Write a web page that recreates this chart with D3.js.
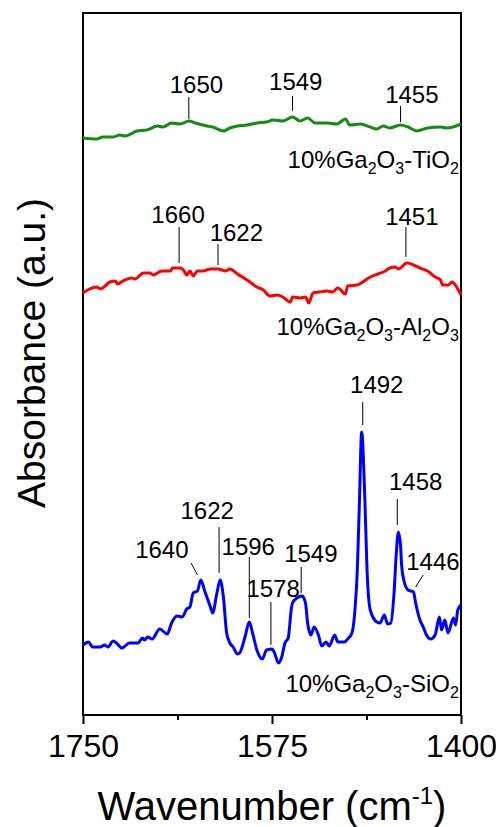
<!DOCTYPE html>
<html>
<head>
<meta charset="utf-8">
<script src="https://cdn.jsdelivr.net/npm/d3@7"></script>
<style>
  body { margin: 0; background: #fff; }
  text { font-family: "Liberation Sans", Arial, sans-serif; fill: #000; }
</style>
</head>
<body>
<div id="chart"></div>
<script>
// 10%Ga2O3-TiO2 spectrum (wavenumber, absorbance a.u. with offset)
var tiWn = [1750,1737,1732,1722,1716,1711,1700,1691,1681,1676,1668,1660,1652,1646,1635,1630,1620,1614,1607,1598,1589,1580,1574,1565,1556,1549,1542,1535,1524,1515,1507,1503,1493,1484,1478,1472,1466,1456,1449,1441,1431,1419,1413,1400];
var tiAbs = [57.7,57.6,57.8,57.8,58.0,57.9,58.4,58.5,58.9,58.8,59.2,59.1,59.4,59.2,58.9,58.8,58.4,58.7,58.9,59.0,59.2,59.3,59.5,59.4,59.8,59.4,59.7,59.2,59.2,59.1,59.6,59.0,59.1,58.8,58.6,58.9,58.7,59.0,58.8,58.4,58.7,58.8,58.7,59.1];

// 10%Ga2O3-Al2O3 spectrum
var alWn = [1750,1744,1737,1734,1725,1720,1718,1713,1705,1702,1694,1688,1685,1677,1669,1667,1660,1657,1654,1651,1648,1644,1639,1632,1625,1618,1614,1607,1598,1589,1583,1577,1570,1565,1558,1556,1549,1544,1541,1537,1531,1524,1519,1514,1507,1505,1496,1491,1484,1477,1470,1466,1461,1458,1450,1444,1438,1431,1424,1419,1417,1412,1408,1406,1400];
var alAbs = [42.2,42.6,42.8,42.6,43.3,43.4,43.1,43.4,43.7,43.6,44.2,44.2,44.0,44.4,44.4,44.7,44.7,44.5,44.0,44.4,43.9,44.4,44.4,44.6,44.6,44.4,44.6,44.1,43.5,42.8,42.5,41.9,42.0,41.8,41.3,41.8,41.7,41.8,41.2,42.2,42.3,42.4,42.3,42.7,42.1,42.9,43.0,43.3,43.8,44.1,44.4,44.7,44.8,44.6,45.2,45.0,44.7,44.4,43.8,43.5,43.0,43.0,43.3,43.1,42.0];

// 10%Ga2O3-SiO2 spectrum
var siWn = [1750,1745,1741,1734,1730,1727,1722,1719,1714,1707,1699,1695,1693,1690,1686,1679,1672,1668,1663,1658,1654,1651,1648,1644,1641,1637,1632,1630,1626,1623,1620,1617,1614,1611,1607,1605,1600,1596,1593,1589,1584,1580,1575,1573,1569,1566,1563,1560,1557,1556,1552,1547,1544,1542,1539,1536,1532,1529,1525,1522,1517,1514,1508,1505,1501,1498,1496,1494,1492,1489,1487,1484,1478,1475,1471,1468,1465,1462,1460,1458,1456,1455,1453,1449,1444,1442,1438,1435,1432,1428,1424,1420,1418,1415,1412,1407,1405,1403,1400];
var siAbs = [7.0,7.3,6.8,6.8,7.0,6.8,7.4,7.2,6.7,7.2,7.2,7.7,7.5,7.8,7.6,8.6,8.1,9.2,9.9,9.8,10.6,10.8,12.2,12.4,13.5,12.3,10.8,10.2,12.2,13.5,11.8,8.2,7.2,6.8,6.1,6.2,7.8,9.3,8.2,6.5,5.6,6.5,6.6,6.3,5.2,5.8,7.2,7.7,10.7,11.2,11.7,11.9,11.2,9.2,8.0,8.8,8.0,6.9,7.3,6.9,8.0,7.3,7.3,7.6,8.2,10.8,14.5,21.5,28.3,21.5,14.5,10.5,9.3,9.2,10.0,9.1,9.2,12.2,16.0,18.3,17.0,15.0,13.5,12.5,12.3,11.2,9.5,8.8,8.0,7.6,8.0,9.8,8.5,9.5,8.2,9.7,9.0,10.5,11.0];

// x ticks
var xTicks = [1750, 1575, 1400];
var xMinor = [1662.5, 1487.5];

// peak marks: label, leader from (wn, a.u.) to (wn, a.u.), text at (wn, a.u.)
var tiMarks = [
  ["1650", 1652, 61.8, 1652, 59.6, 1645, 62.2],
  ["1549", 1556, 61.9, 1556, 60.4, 1553, 62.5],
  ["1455", 1456, 60.9, 1456, 59.3, 1445.5, 61.2]
];
var alMarks = [
  ["1660", 1661, 48.8, 1661, 45.2, 1662, 49.2],
  ["1622", 1625, 47.1, 1625, 45.0, 1608, 47.4],
  ["1451", 1451, 48.8, 1451, 45.8, 1445.5, 49.0]
];
var siMarks = [
  ["1640", 1650, 15.2, 1644, 14.0, 1677, 15.7],
  ["1622", 1624, 18.8, 1624, 14.2, 1635, 19.6],
  ["1596", 1596, 15.8, 1596, 9.7, 1597, 16.0],
  ["1578", 1576, 11.3, 1576, 7.0, 1574, 11.8],
  ["1549", 1548, 14.8, 1548, 12.2, 1539, 15.3],
  ["1492", 1491, 31.3, 1491, 29.0, 1478, 32.2],
  ["1458", 1459, 21.6, 1459, 19.0, 1442, 22.5],
  ["1446", 1435, 14.0, 1442, 12.8, 1426, 14.5]
];

// sample names (text, subscript flag) and where they sit
var tiName = [["10%Ga",0],["2",1],["O",0],["3",1],["-TiO",0],["2",1]];
var alName = [["10%Ga",0],["2",1],["O",0],["3",1],["-Al",0],["2",1],["O",0],["3",1]];
var siName = [["10%Ga",0],["2",1],["O",0],["3",1],["-SiO",0],["2",1]];
var nameAt = [54.7, 38.0, 2.3];

var width = 496;
var height = 827;
// plot frame edges
var pLeft = 83, pRight = 461, pTop = 13, pBottom = 715;

var svg = d3
  .select("#chart")
  .append("svg")
  .attr("width", width)
  .attr("height", height);

var x_Scale = d3.scaleLinear().domain([1750, 1400]).range([pLeft, pRight]);
var y_Scale = d3.scaleLinear().domain([0, 70.2]).range([pBottom, pTop]);

// minor ticks
svg
  .append("g")
  .attr("transform", "translate(0," + pBottom + ")")
  .call(d3.axisBottom(x_Scale).tickValues(xMinor).tickSize(5).tickFormat(""))
  .call(function(g) {
    g.select(".domain").remove();
    g.selectAll("line").attr("stroke", "#000").attr("stroke-width", 2);
  });

// major ticks
svg
  .append("g")
  .attr("transform", "translate(0," + pBottom + ")")
  .call(d3.axisBottom(x_Scale).tickValues(xTicks).tickSize(9).tickPadding(10).tickFormat(d3.format("d")))
  .call(function(g) {
    g.select(".domain").remove();
    g.selectAll("line").attr("stroke", "#000").attr("stroke-width", 2);
    g.selectAll("text")
      .attr("font-size", 32)
      .attr("font-family", "'Liberation Sans', Arial, sans-serif")
      .attr("fill", "#000");
  });

// frame
svg
  .append("rect")
  .attr("x", pLeft)
  .attr("y", pTop)
  .attr("width", pRight - pLeft)
  .attr("height", pBottom - pTop)
  .attr("fill", "none")
  .attr("stroke", "#000")
  .attr("stroke-width", 2);

var line = d3
  .line()
  .x(function(d) { return x_Scale(d[0]); })
  .y(function(d) { return y_Scale(d[1]); })
  .curve(d3.curveMonotoneX);

function drawSpectrum(wn, abs, color) {
  svg
    .append("path")
    .datum(d3.zip(wn, abs))
    .attr("d", line)
    .attr("fill", "none")
    .attr("stroke", color)
    .attr("stroke-width", 3)
    .attr("stroke-linejoin", "round");
}
drawSpectrum(tiWn, tiAbs, "#148c14");
drawSpectrum(alWn, alAbs, "#ff0000");
drawSpectrum(siWn, siAbs, "#0000ff");

// peak labels with leader lines
function drawMarks(marks) {
  var g = svg.append("g");
  g.selectAll("line")
    .data(marks)
    .enter()
    .append("line")
    .attr("x1", function(d) { return x_Scale(d[1]); })
    .attr("y1", function(d) { return y_Scale(d[2]); })
    .attr("x2", function(d) { return x_Scale(d[3]); })
    .attr("y2", function(d) { return y_Scale(d[4]); })
    .attr("stroke", "#000")
    .attr("stroke-width", 1);
  g.selectAll("text")
    .data(marks)
    .enter()
    .append("text")
    .attr("x", function(d) { return x_Scale(d[5]); })
    .attr("y", function(d) { return y_Scale(d[6]); })
    .attr("text-anchor", "middle")
    .attr("font-size", 24)
    .text(function(d) { return d[0]; });
}
drawMarks(tiMarks);
drawMarks(alMarks);
drawMarks(siMarks);

// sample names with subscripts
function drawName(parts, at) {
  var t = svg
    .append("text")
    .attr("x", x_Scale(1402))
    .attr("y", y_Scale(at))
    .attr("text-anchor", "end")
    .attr("font-size", 24);
  var sub = 0;
  parts.forEach(function(p) {
    var dy = 0;
    if (p[1] && !sub) dy = 6;
    if (!p[1] && sub) dy = -6;
    sub = p[1];
    t.append("tspan")
      .attr("dy", dy)
      .attr("font-size", p[1] ? 16 : 24)
      .text(p[0]);
  });
}
drawName(tiName, nameAt[0]);
drawName(alName, nameAt[1]);
drawName(siName, nameAt[2]);

// axis titles
var xTitle = svg
  .append("text")
  .attr("x", (pLeft + pRight) / 2)
  .attr("y", 820)
  .attr("text-anchor", "middle")
  .attr("font-size", 40);
xTitle.append("tspan").text("Wavenumber (cm");
xTitle.append("tspan").attr("font-size", 24).attr("dy", -16).text("-1");
xTitle.append("tspan").attr("dy", 16).text(")");

svg
  .append("text")
  .attr("transform", "translate(45," + 353 + ")rotate(-90)")
  .attr("text-anchor", "middle")
  .attr("font-size", 39)
  .text("Absorbance (a.u.)");
</script>
</body>
</html>
